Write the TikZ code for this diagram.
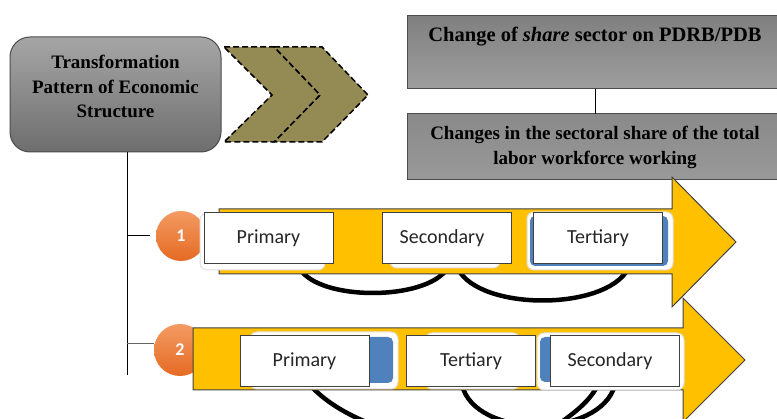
\documentclass[tikz,border=0pt]{standalone}
\usepackage{fontspec}
\setmainfont{Liberation Serif}
\newfontfamily\calibri{Carlito}

\definecolor{arrowyellow}{HTML}{FFC000}
\definecolor{chevron}{HTML}{948A54}
\definecolor{sectblue}{HTML}{4F81BD}
\definecolor{balltop}{HTML}{F39B62}
\definecolor{ballbot}{HTML}{E56A24}

\begin{document}
\begin{tikzpicture}[x=1pt,y=1pt,
    graybox/.style={draw=black!70,line width=1pt,inner sep=0pt,outer sep=0pt},
    headfont/.style={font=\bfseries\fontsize{19}{24.5}\selectfont},
    rightfont/.style={font=\bfseries\fontsize{19}{25}\selectfont},
    sector/.style={draw=black!75,line width=1pt,fill=white,minimum width=129pt,
      minimum height=51pt,inner sep=0pt,text=black!85,
      font=\calibri\fontsize{20}{24}\selectfont},
    halo/.style={fill=white,draw=black!12,line width=1pt,rounded corners=7pt},
    backblue/.style={fill=sectblue,rounded corners=5pt},
    loop/.style={line width=4.5pt,line cap=round},
    number/.style={circle,minimum size=50pt,inner sep=0pt,top color=balltop,
      bottom color=ballbot,text=white,font=\calibri\bfseries\fontsize{18}{18}\selectfont},
    bigarrow/.style={fill=arrowyellow,draw=black!75,line width=1pt,line join=miter}]
  \useasboundingbox (0,0) rectangle (777,419);

  % left box and the two chevrons
  \node[graybox,rounded corners=20pt,minimum width=211pt,minimum height=115pt,
    top color=black!35,bottom color=black!57,
    label={[headfont,align=center,yshift=8pt]center:Transformation\\Pattern of Economic\\Structure}]
    (trans) at (115.5,324.5) {};
  \draw[fill=chevron,dash pattern=on 6pt off 3pt,line width=1.5pt]
    (274,372) -- (322,372) -- (368,324) -- (322,277) -- (274,277) -- (320,324) -- cycle;
  \draw[fill=chevron,dash pattern=on 6pt off 3pt,line width=1.5pt]
    (224,372) -- (274,372) -- (320,324) -- (274,277) -- (224,277) -- (272,324) -- cycle;

  % right boxes
  \node[graybox,minimum width=376pt,minimum height=73pt,top color=black!50,bottom color=black!38,
    label={[rightfont,font=\bfseries\fontsize{20.5}{25}\selectfont,yshift=15.5pt]center:Change of \textit{share} sector on PDRB/PDB}]
    (share) at (595,366.5) {};
  \node[graybox,rightfont,align=center,minimum width=376pt,minimum height=66pt,
    top color=black!46,bottom color=black!40] (labor) at (595,272)
    {Changes in the sectoral share of the total\\labor workforce working};
  \draw[line width=1pt] (share.south) -- (labor.north);

  % spine with the two numbers
  \node[number] (c1) at (181,183) {1};
  \node[number,minimum size=52pt] (c2) at (180,69) {2};
  \coordinate (j1) at (127,183);
  \coordinate (j2) at (127,75);
  \coordinate (jend) at (127,44);
  \coordinate (e1) at (150,183);
  \draw[line width=1pt] (trans.south -| j1) -- (jend);
  \draw[line width=1pt] (j1) -- (e1);
  \draw[line width=1pt,black!60] (j2) -- (c2.west |- j2);

  % loops under the arrows
  \draw[loop] (300,150) .. controls (320,118) and (425,118) .. (447,150);
  \draw[loop] (458,150) .. controls (480,108) and (605,108) .. (628,150);
  \draw[loop] (310,34) .. controls (345,-5) and (420,-25) .. (480,-25);
  \draw[loop] (462,34) .. controls (475,-20) and (600,-20) .. (615,34);
  \draw[loop] (598,34) .. controls (588,15) and (572,5) .. (555,-8);

  % second row
  \draw[bigarrow] (193,91) -- (683,91) -- (683,121) -- (745,59) -- (683,-3)
    -- (683,29) -- (193,29) -- cycle;
  \draw[halo] (250,30) rectangle (398,87);
  \fill[backblue] (254,36) rectangle (393,82);
  \draw[halo] (425,30) rectangle (520,86);
  \draw[halo] (537,29) rectangle (684,86);
  \fill[backblue] (540,37) rectangle (678,82);
  \node[sector] (prim2) at (304.5,57.5) {Primary};
  \node[sector] (ter2) at (471,57.5) {Tertiary};
  \node[sector] (sec2) at (615,57.5) {\hspace*{-10pt}Secondary};

  % first row
  \draw[bigarrow] (219,210) -- (672,210) -- (672,242) -- (736,177) -- (672,112)
    -- (672,145) -- (219,145) -- cycle;
  \draw[halo] (200,149) rectangle (325,206);
  \draw[halo] (390,151) rectangle (500,203);
  \draw[halo] (527,149) rectangle (673,207);
  \fill[backblue] (530,153) rectangle (668,203);
  \node[sector] (prim1) at (268.5,180.5) {Primary};
  \node[sector] (sec1) at (447,180.5) {\hspace*{-10pt}Secondary};
  \node[sector] (ter1) at (598,180.5) {Tertiary};
\end{tikzpicture}
\end{document}
